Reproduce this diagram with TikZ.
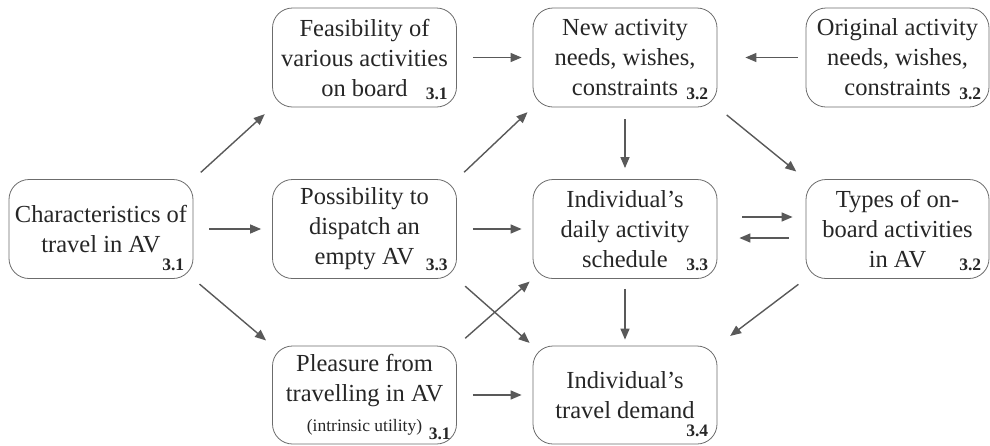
\documentclass[tikz,border=0pt]{standalone}
\usepackage{fontspec}
\setmainfont{Liberation Serif}
\usetikzlibrary{arrows.meta}

\begin{document}
\begin{tikzpicture}[x=1pt,y=-1pt,
    box/.style={draw=gray!85!black, line width=0.8pt, rounded corners=20pt, minimum width=184pt, minimum height=99pt, align=center, inner sep=0pt, font=\fontsize{24.5}{30}\selectfont, text=black!85},
    num/.style={anchor=base east, inner sep=0pt, font=\fontsize{17.5}{17.5}\selectfont\bfseries, text=black!85},
    arr/.style={draw=black!65, line width=1.4pt, -{Triangle[length=11pt,width=9pt]}}]
\useasboundingbox (0,0) rectangle (990,445);
% boxes
\node[box] (char) at (101,229) {Characteristics of\\travel in AV};
\node[box] (feas) at (364.5,57.5) {Feasibility of\\various activities\\on board};
\node[box] (poss) at (364.5,229) {Possibility to\\dispatch an\\empty AV};
\node[box, minimum height=98pt] (plea) at (364.5,395) {Pleasure from\\travelling in AV\\{\fontsize{17.5}{20}\selectfont(intrinsic utility)}};
\node[box] (new) at (625,57.5) {New activity\\needs, wishes,\\constraints};
\node[box] (daily) at (625,229) {Individual’s\\daily activity\\schedule};
\node[box, minimum height=98pt] (trav) at (625,395) {Individual’s\\travel demand};
\node[box, minimum width=183pt] (orig) at (897.5,57.5) {Original activity\\needs, wishes,\\constraints};
\node[box, minimum width=183pt] (types) at (897.5,229) {Types of on-\\board activities\\in AV};
% section numbers
\node[num] (n1) at ([xshift=-9pt,yshift=8pt]char.south east) {3.1};
\node[num] (n2) at ([xshift=-9pt,yshift=8pt]feas.south east) {3.1};
\node[num] (n3) at ([xshift=-9pt,yshift=8pt]poss.south east) {3.3};
\node[num] (n4) at ([xshift=-6pt,yshift=5pt]plea.south east) {3.1};
\node[num] (n5) at ([xshift=-9pt,yshift=8pt]new.south east) {3.2};
\node[num] (n6) at ([xshift=-9pt,yshift=8pt]daily.south east) {3.3};
\node[num] (n7) at ([xshift=-9pt,yshift=8pt]trav.south east) {3.4};
\node[num] (n8) at ([xshift=-8pt,yshift=8pt]orig.south east) {3.2};
\node[num] (n9) at ([xshift=-8pt,yshift=8pt]types.south east) {3.2};
% arrows
\draw[arr, shorten <=10pt, shorten >=10pt] (char.north east) -- (feas.south west);
\draw[arr, shorten <=16pt, shorten >=11pt] (char.east) -- (poss.west);
\draw[arr, shorten <=8pt, shorten >=8pt] (char.south east) -- (plea.north west);
\draw[arr, shorten <=16pt, shorten >=11pt] (feas.east) -- (new.west);
\draw[arr, shorten <=8pt, shorten >=28pt] (orig.west) -- (new.east);
\draw[arr, shorten <=10pt, shorten >=7pt] (poss.north east) -- (new.south west);
\draw[arr, shorten <=16pt, shorten >=11pt] (poss.east) -- (daily.west);
\draw[arr, shorten <=11pt, shorten >=4pt] (poss.south east) -- (trav.north west);
\draw[arr, shorten <=11pt, shorten >=4pt] (plea.north east) -- (daily.south west);
\draw[arr, shorten <=16pt, shorten >=11pt] (plea.east) -- (trav.west);
\draw[arr, shorten <=12pt, shorten >=11pt] (new.south) -- (daily.north);
\draw[arr, shorten <=10pt, shorten >=6pt] (daily.south) -- (trav.north);
\draw[arr, shorten <=12pt, shorten >=12pt] (new.south east) -- (types.north west);
\draw[arr, shorten <=25pt, shorten >=13pt] ([yshift=12pt]daily.east) -- ([yshift=12pt]types.west);
\draw[arr, shorten <=17pt, shorten >=22pt] ([yshift=-9pt]types.west) -- ([yshift=-9pt]daily.east);
\draw[arr, shorten <=9pt, shorten >=16pt] (types.south west) -- (trav.north east);
\end{tikzpicture}
\end{document}
